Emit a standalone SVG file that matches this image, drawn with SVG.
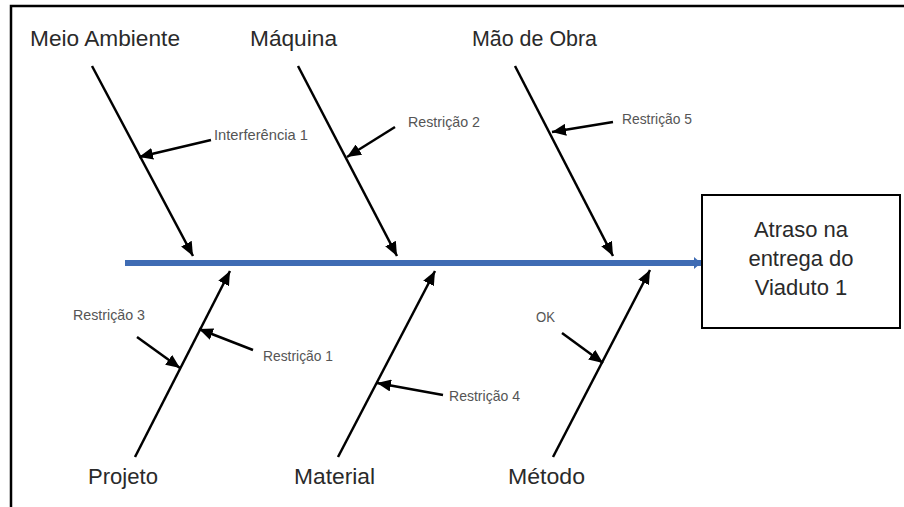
<svg xmlns="http://www.w3.org/2000/svg" width="904" height="507" viewBox="0 0 904 507">
<style>
.frame{fill:none;stroke:#000;stroke-width:2.5}
.bone{stroke:#000;stroke-width:2.5;fill:none;marker-end:url(#ah)}
.sub{stroke:#000;stroke-width:2.5;fill:none;marker-end:url(#ah)}
.main{font-family:"Liberation Sans",Arial,sans-serif;font-size:22px;fill:#2a2a2a}
.small{font-family:"Liberation Sans",Arial,sans-serif;font-size:14.5px;fill:#555}
.box{fill:#fff;stroke:#000;stroke-width:2}
.boxtxt{font-family:"Liberation Sans",Arial,sans-serif;font-size:22px;fill:#2a2a2a;text-anchor:middle}
</style>
<defs>
<marker id="ah" markerUnits="userSpaceOnUse" markerWidth="15" markerHeight="12" refX="14" refY="6" orient="auto">
<path d="M0,0 L14,6 L0,12 z" fill="#000"/>
</marker>
<marker id="ahb" markerUnits="userSpaceOnUse" markerWidth="8" markerHeight="12" refX="7" refY="6" orient="auto">
<path d="M0,0 L7,6 L0,12 z" fill="#3f6cb4"/>
</marker>
</defs>
<rect width="904" height="507" fill="#fff"/>
<path class="frame" d="M11,507 L11,6 L904,6"/>

<g id="connectors">
<line x1="125" y1="263" x2="701" y2="263" stroke="#3f6cb4" stroke-width="6" marker-end="url(#ahb)"/>
<line class="bone" x1="92" y1="66" x2="193" y2="256"/>
<line class="bone" x1="298" y1="66" x2="397" y2="256"/>
<line class="bone" x1="515" y1="66" x2="613" y2="256"/>
<line class="bone" x1="135" y1="457" x2="230" y2="271"/>
<line class="bone" x1="338" y1="457" x2="435" y2="271"/>
<line class="bone" x1="553" y1="457" x2="650" y2="270"/>
<line class="sub" x1="211" y1="140" x2="139" y2="157"/>
<line class="sub" x1="395" y1="127" x2="347" y2="157"/>
<line class="sub" x1="613" y1="122" x2="552" y2="132"/>
<line class="sub" x1="137" y1="337" x2="180" y2="368"/>
<line class="sub" x1="253" y1="350" x2="199" y2="329"/>
<line class="sub" x1="443" y1="395" x2="377" y2="383"/>
<line class="sub" x1="562" y1="333" x2="603" y2="363"/>
</g>

<g id="meio-ambiente"><text class="main" x="30" y="46" textLength="150" lengthAdjust="spacingAndGlyphs">Meio Ambiente</text></g>
<g id="maquina"><text class="main" x="250" y="46" textLength="87" lengthAdjust="spacingAndGlyphs">Máquina</text></g>
<g id="mao-de-obra"><text class="main" x="472" y="46" textLength="125" lengthAdjust="spacingAndGlyphs">Mão de Obra</text></g>
<g id="projeto"><text class="main" x="88" y="484" textLength="70" lengthAdjust="spacingAndGlyphs">Projeto</text></g>
<g id="material"><text class="main" x="294" y="484" textLength="81" lengthAdjust="spacingAndGlyphs">Material</text></g>
<g id="metodo"><text class="main" x="508" y="484" textLength="77" lengthAdjust="spacingAndGlyphs">Método</text></g>

<g id="interferencia1"><text class="small" x="214" y="140" textLength="94" lengthAdjust="spacingAndGlyphs">Interferência 1</text></g>
<g id="restricao2"><text class="small" x="408" y="127" textLength="72" lengthAdjust="spacingAndGlyphs">Restrição 2</text></g>
<g id="restricao5"><text class="small" x="622" y="124" textLength="70" lengthAdjust="spacingAndGlyphs">Restrição 5</text></g>
<g id="restricao3"><text class="small" x="73" y="320" textLength="72" lengthAdjust="spacingAndGlyphs">Restrição 3</text></g>
<g id="restricao1"><text class="small" x="263" y="361" textLength="70" lengthAdjust="spacingAndGlyphs">Restrição 1</text></g>
<g id="restricao4"><text class="small" x="449" y="401" textLength="71" lengthAdjust="spacingAndGlyphs">Restrição 4</text></g>
<g id="ok"><text class="small" x="536" y="322" textLength="19" lengthAdjust="spacingAndGlyphs">OK</text></g>

<g id="efeito">
<rect class="box" x="702" y="195" width="198" height="133"/>
<text class="boxtxt" x="801" y="237">Atraso na</text>
<text class="boxtxt" x="801" y="266">entrega do</text>
<text class="boxtxt" x="801" y="295">Viaduto 1</text>
</g>
</svg>
